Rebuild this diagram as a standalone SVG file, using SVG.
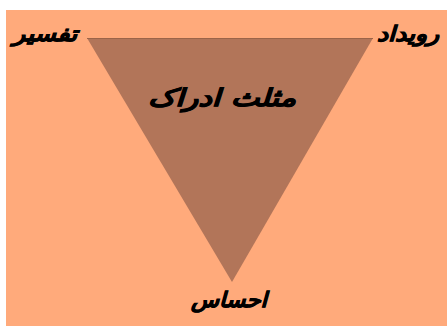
<svg xmlns="http://www.w3.org/2000/svg" width="447" height="326" viewBox="0 0 447 326">
<style>
.lbl{font-family:"DejaVu Sans",sans-serif;font-weight:bold;font-style:italic;fill:#000;stroke:#000;stroke-width:0.7;direction:rtl;}
</style>
<rect x="0" y="0" width="447" height="326" fill="#ffffff"/>
<rect x="6" y="10" width="441" height="316" fill="#FFAA7B"/>
<g id="triangle">
<polygon points="87,38 373,38 232,282" fill="#B27559"/>
<line x1="87" y1="38.5" x2="373" y2="38.5" stroke="#9c6448" stroke-width="1"/>
<text class="lbl" x="222" y="106" font-size="24" text-anchor="middle" textLength="148" lengthAdjust="spacingAndGlyphs">مثلث ادراک</text>
</g>
<g id="tafsir"><text class="lbl" x="45" y="41" font-size="21" text-anchor="middle" textLength="64" lengthAdjust="spacingAndGlyphs">تفسیر</text></g>
<g id="rouydad"><text class="lbl" x="408" y="41" font-size="21" text-anchor="middle" textLength="62" lengthAdjust="spacingAndGlyphs">رویداد</text></g>
<g id="ehsas"><text class="lbl" x="229" y="307" font-size="21" text-anchor="middle" textLength="76" lengthAdjust="spacingAndGlyphs">احساس</text></g>
<g id="connectors"></g>
</svg>
